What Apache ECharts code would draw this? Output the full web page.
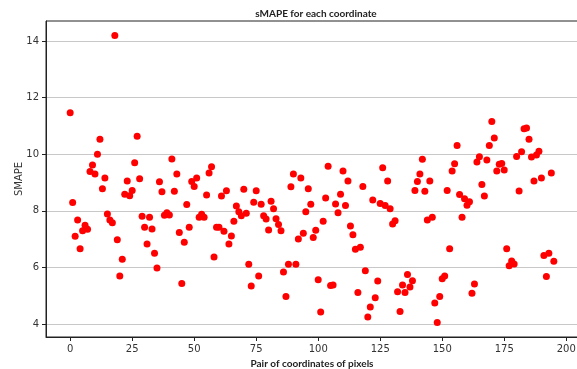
<!DOCTYPE html>
<html>
<head>
<meta charset="utf-8">
<script src="https://cdn.jsdelivr.net/npm/echarts@6/dist/echarts.min.js"></script>
<style>
  html, body { margin: 0; padding: 0; background: #fff; }
  #chart { width: 577px; height: 369px; }
</style>
</head>
<body>
<div id="chart"></div>
<script>
// sMAPE per pair of pixel coordinates (index 0..195)
var smape = [
  11.47, 8.29, 7.10, 7.68, 6.66, 7.30, 7.49, 7.35, 9.39, 9.62,
  9.30, 10.00, 10.53, 8.78, 9.16, 7.89, 7.68, 7.58, 14.20, 6.98,
  5.70, 6.29, 8.59, 9.05, 8.53, 8.72, 9.70, 10.64, 9.13, 7.81,
  7.42, 6.83, 7.77, 7.36, 6.50, 5.98, 9.03, 8.67, 7.84, 7.93,
  7.85, 9.83, 8.69, 9.30, 7.23, 5.43, 6.89, 8.22, 7.42, 9.04,
  8.86, 9.16, 7.77, 7.88, 7.77, 8.56, 9.34, 9.56, 6.37, 7.42,
  7.42, 8.52, 7.28, 8.71, 6.83, 7.11, 7.63, 8.17, 7.97, 7.83,
  8.76, 7.91, 6.11, 5.34, 8.30, 8.71, 5.70, 8.23, 7.83, 7.71,
  7.32, 8.34, 8.07, 7.72, 7.52, 7.30, 5.84, 4.97, 6.11, 8.85,
  9.30, 6.11, 7.00, 9.16, 7.21, 7.97, 8.78, 8.23, 7.06, 7.31,
  5.56, 4.42, 7.63, 8.45, 9.58, 5.36, 5.38, 8.24, 7.93, 8.59,
  9.41, 8.19, 9.05, 7.46, 7.15, 6.64, 5.11, 6.71, 8.86, 5.88,
  4.25, 4.60, 8.38, 4.93, 5.52, 8.26, 9.52, 8.19, 9.05, 8.07,
  7.53, 7.65, 5.14, 4.44, 5.38, 5.11, 5.75, 5.31, 5.53, 8.72,
  9.04, 9.30, 9.82, 8.69, 7.68, 9.05, 7.77, 4.74, 4.05, 4.97,
  5.60, 5.70, 8.72, 6.66, 9.41, 9.66, 10.31, 8.58, 7.77, 8.43,
  8.20, 8.32, 5.09, 5.41, 9.73, 9.91, 8.93, 8.52, 9.80, 10.31,
  11.16, 10.57, 9.41, 9.65, 9.67, 9.44, 6.66, 6.06, 6.23, 6.12,
  9.92, 8.70, 10.09, 10.90, 10.93, 10.53, 9.90, 9.05, 9.97, 10.11,
  9.16, 6.42, 5.68, 6.50, 9.34, 6.22
];
var xTicks = [0, 25, 50, 75, 100, 125, 150, 175, 200];
var yTicks = [4, 6, 8, 10, 12, 14];

var points = smape.map(function (v, i) { return [i, v]; });

var chart = echarts.init(document.getElementById('chart'));
var boldFont = 'Lato, "Open Sans", sans-serif';
var tickFont = '"DejaVu Sans", sans-serif';

var option = {
    animation: false,
    backgroundColor: '#fff',
    title: {
        text: 'sMAPE for each coordinate',
        left: 311,
        top: 4,
        textAlign: 'center',
        textStyle: { fontSize: 10, fontWeight: 'bold', color: '#222', fontFamily: boldFont }
    },
    grid: {
        left: 46, right: -1, top: 21, bottom: 32,
        outerBoundsMode: 'none',
        containLabel: false,
        show: true,
        borderColor: '#222',
        borderWidth: 1
    },
    xAxis: {
        type: 'value',
        min: -9.75,
        max: 204.75,
        name: 'Pair of coordinates of pixels',
        nameLocation: 'middle',
        nameGap: 22,
        nameMoveOverlap: false,
        nameTextStyle: { fontSize: 10, fontWeight: 'bold', color: '#222', fontFamily: boldFont },
        axisLine: { onZero: false, lineStyle: { color: '#222' } },
        axisTick: { customValues: xTicks, length: 4, lineStyle: { color: '#222' } },
        axisLabel: { customValues: xTicks, margin: 7, fontSize: 10, color: '#333', fontFamily: tickFont },
        splitLine: { show: false }
    },
    yAxis: {
        type: 'value',
        min: 3.54,
        max: 14.71,
        name: 'SMAPE',
        nameLocation: 'middle',
        nameGap: 22,
        nameMoveOverlap: false,
        nameTextStyle: { fontSize: 10, color: '#333', fontFamily: tickFont },
        axisLine: { show: true, onZero: false, lineStyle: { color: '#222' } },
        axisTick: { show: true, customValues: yTicks, length: 4, lineStyle: { color: '#222' } },
        axisLabel: { customValues: yTicks, margin: 7, fontSize: 10, color: '#333', fontFamily: tickFont },
        splitLine: { show: true, lineStyle: { color: '#c8c8c8', width: 1 } }
    },
    series: [{
        type: 'scatter',
        data: points,
        symbol: 'circle',
        symbolSize: 7,
        itemStyle: { color: '#ff0000', opacity: 1 }
    }]
};
chart.setOption(option);
</script>
</body>
</html>
